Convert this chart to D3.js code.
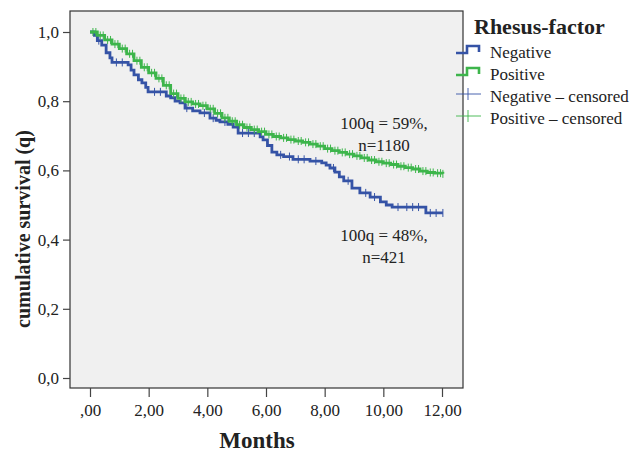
<!DOCTYPE html>
<html>
<head>
<meta charset="utf-8">
<script src="https://cdn.jsdelivr.net/npm/d3@7"></script>
<style>
  body { margin: 0; background: #fff; }
  text { font-family: "Liberation Serif", "DejaVu Serif", serif; fill: #222; }
</style>
</head>
<body>
<div class="chart"></div>
<script>
// step data: [months, survival]
const negativeSteps = [
  [0, 1.0], [0.15, 0.99], [0.25, 0.975], [0.4, 0.962], [0.55, 0.94], [0.68, 0.925],
  [0.75, 0.912], [1.3, 0.905], [1.4, 0.89], [1.5, 0.876], [1.65, 0.862], [1.77, 0.853],
  [1.9, 0.84], [1.98, 0.827], [2.6, 0.815], [2.75, 0.81], [2.9, 0.8], [3.07, 0.795],
  [3.24, 0.78], [3.5, 0.772], [3.75, 0.766], [4.09, 0.751], [4.3, 0.745], [4.43, 0.74],
  [4.7, 0.733], [4.88, 0.725], [5.05, 0.708], [5.8, 0.697], [5.9, 0.688], [6.05, 0.672],
  [6.2, 0.653], [6.37, 0.645], [6.6, 0.64], [6.92, 0.632], [7.5, 0.627], [7.9, 0.622],
  [8.05, 0.615], [8.18, 0.607], [8.35, 0.595], [8.5, 0.581], [8.65, 0.57], [8.93, 0.549],
  [9.2, 0.535], [9.55, 0.523], [9.9, 0.509], [10.1, 0.5], [10.3, 0.494], [11.45, 0.477],
  [12.03, 0.477]
];
const positiveSteps = [
  [0, 1.0], [0.25, 0.99], [0.5, 0.977], [0.75, 0.965], [1.0, 0.952], [1.25, 0.937],
  [1.5, 0.917], [1.75, 0.898], [2.0, 0.882], [2.25, 0.866], [2.5, 0.846], [2.75, 0.822],
  [3.0, 0.808], [3.25, 0.798], [3.5, 0.792], [3.75, 0.787], [4.0, 0.778], [4.25, 0.765],
  [4.5, 0.752], [4.75, 0.742], [5.0, 0.732], [5.25, 0.724], [5.5, 0.718], [5.75, 0.712],
  [6.0, 0.704], [6.25, 0.698], [6.5, 0.694], [6.75, 0.689], [7.0, 0.685], [7.25, 0.681],
  [7.5, 0.676], [7.75, 0.67], [8.0, 0.663], [8.25, 0.657], [8.5, 0.652], [8.75, 0.647],
  [9.0, 0.642], [9.25, 0.636], [9.5, 0.63], [9.75, 0.625], [10.0, 0.621], [10.25, 0.617],
  [10.5, 0.612], [10.75, 0.608], [11.0, 0.604], [11.25, 0.598], [11.5, 0.594],
  [11.75, 0.592], [12.03, 0.59]
];
const negativeCensored = [0.3, 0.9, 1.1, 2.2, 2.4, 3.3, 3.9, 4.2, 4.6, 5.2, 5.4, 5.6,
  6.5, 6.8, 7.1, 7.3, 7.7, 8.3, 8.8, 9.4, 9.7, 10.5, 10.8, 11.0, 11.2, 11.6, 11.8, 12.03];
const positiveCensored = [0.1, 0.2, 0.35, 0.45, 0.6, 0.7, 0.85, 0.95, 1.1, 1.2, 1.35,
  1.45, 1.6, 1.7, 1.85, 1.95, 2.1, 2.2, 2.35, 2.45, 2.6, 2.7, 2.85, 2.95, 3.1, 3.2,
  3.35, 3.45, 3.6, 3.7, 3.85, 3.95, 4.1, 4.2, 4.35, 4.45, 4.6, 4.7, 4.85, 4.95, 5.1,
  5.2, 5.35, 5.45, 5.6, 5.7, 5.85, 5.95, 6.1, 6.2, 6.35, 6.45, 6.6, 6.7, 6.85, 6.95,
  7.1, 7.2, 7.35, 7.45, 7.6, 7.7, 7.85, 7.95, 8.1, 8.2, 8.35, 8.45, 8.6, 8.7, 8.85,
  8.95, 9.1, 9.2, 9.35, 9.45, 9.6, 9.7, 9.85, 9.95, 10.1, 10.2, 10.35, 10.45, 10.6,
  10.7, 10.85, 10.95, 11.1, 11.2, 11.35, 11.45, 11.6, 11.7, 11.85, 11.95, 12.03];

const xTicks = [0, 2, 4, 6, 8, 10, 12];
const yTicks = [0, 0.2, 0.4, 0.6, 0.8, 1.0];
const legendItems = ['Negative', 'Positive', 'Negative \u2013 censored', 'Positive \u2013 censored'];
const notes = [
  { lines: ['100q = 59%,', 'n=1180'], y: 0.72 },
  { lines: ['100q = 48%,', 'n=421'], y: 0.395 }
];

const blue = '#3553a6';
const green = '#3db54b';

const width = 635, height = 454;
const frame = { left: 70, top: 11, right: 463, bottom: 388 };

const svg = d3.select('.chart').append('svg')
  .attr('width', width)
  .attr('height', height);

const x = d3.scaleLinear().domain([0, 12]).range([90, 442]);
const y = d3.scaleLinear().domain([0, 1]).range([378, 32]);

svg.append('rect')
  .attr('x', frame.left).attr('y', frame.top)
  .attr('width', frame.right - frame.left)
  .attr('height', frame.bottom - frame.top)
  .attr('fill', '#f0f0f0')
  .attr('stroke', '#333')
  .attr('stroke-width', 1.2);

// axes
const fmtX = d => d === 0 ? ',00' : d3.format('.2f')(d).replace('.', ',');
const fmtY = d => d3.format('.1f')(d).replace('.', ',');

const xAxis = svg.append('g')
  .attr('transform', `translate(0,${frame.bottom})`)
  .call(d3.axisBottom(x).tickValues(xTicks).tickFormat(fmtX).tickSize(9).tickPadding(7));
const yAxis = svg.append('g')
  .attr('transform', `translate(${frame.left},0)`)
  .call(d3.axisLeft(y).tickValues(yTicks).tickFormat(fmtY).tickSize(7).tickPadding(4));

[xAxis, yAxis].forEach(g => {
  g.select('.domain').remove();
  g.selectAll('line').attr('stroke', '#444').attr('stroke-width', 1.2);
  g.selectAll('text').style('font-family', '"Liberation Serif", serif')
    .style('font-size', '17px').attr('fill', '#222');
});

// curves
const line = d3.line().x(d => x(d[0])).y(d => y(d[1])).curve(d3.curveStepAfter);

const survivalAt = (steps, t) => {
  const i = d3.bisector(d => d[0]).right(steps, t) - 1;
  return steps[Math.max(0, i)][1];
};

const series = [
  { steps: negativeSteps, censored: negativeCensored, color: blue },
  { steps: positiveSteps, censored: positiveCensored, color: green }
];

series.forEach(s => {
  svg.append('path')
    .attr('d', line(s.steps))
    .attr('fill', 'none')
    .attr('stroke', s.color)
    .attr('stroke-width', 2.8);

  svg.append('g').selectAll('line')
    .data(s.censored)
    .enter()
    .append('line')
    .attr('x1', d => x(d)).attr('x2', d => x(d))
    .attr('y1', d => y(survivalAt(s.steps, d)) - 4)
    .attr('y2', d => y(survivalAt(s.steps, d)) + 4)
    .attr('stroke', s.color)
    .attr('stroke-width', 1);
});

// annotations
notes.forEach(n => {
  const t = svg.append('text')
    .attr('x', 384)
    .attr('y', y(n.y))
    .attr('text-anchor', 'middle')
    .style('font-size', '17px');
  n.lines.forEach((l, i) => {
    t.append('tspan').attr('x', 384).attr('dy', i === 0 ? 0 : 22).text(l);
  });
});

// axis titles
svg.append('text')
  .attr('x', 257).attr('y', 448)
  .attr('text-anchor', 'middle')
  .style('font-size', '23px').style('font-weight', 'bold')
  .text('Months');

svg.append('text')
  .attr('transform', 'translate(30,229) rotate(-90)')
  .attr('text-anchor', 'middle')
  .style('font-size', '20px').style('font-weight', 'bold')
  .text('cumulative survival (q)');

// legend
const legend = svg.append('g');
legend.append('text')
  .attr('x', 474).attr('y', 34)
  .style('font-size', '22px').style('font-weight', 'bold')
  .text('Rhesus-factor');

const legendColors = [blue, green, blue, green];
legendItems.forEach((label, i) => {
  const base = 58 + i * 22;
  const cy = base - 8;
  const g = legend.append('g');
  if (i < 2) {
    g.append('path')
      .attr('d', `M456,${cy + 3}H467V${cy - 4}H479V${cy + 2}`)
      .attr('fill', 'none')
      .attr('stroke', legendColors[i])
      .attr('stroke-width', 2.6);
  } else {
    g.append('path')
      .attr('d', `M456,${cy}H481M468,${cy - 6}V${cy + 6}`)
      .attr('fill', 'none')
      .attr('stroke', legendColors[i])
      .attr('stroke-width', 0.9);
  }
  g.append('text')
    .attr('x', 490).attr('y', base)
    .style('font-size', '17px')
    .text(label);
});
</script>
</body>
</html>
